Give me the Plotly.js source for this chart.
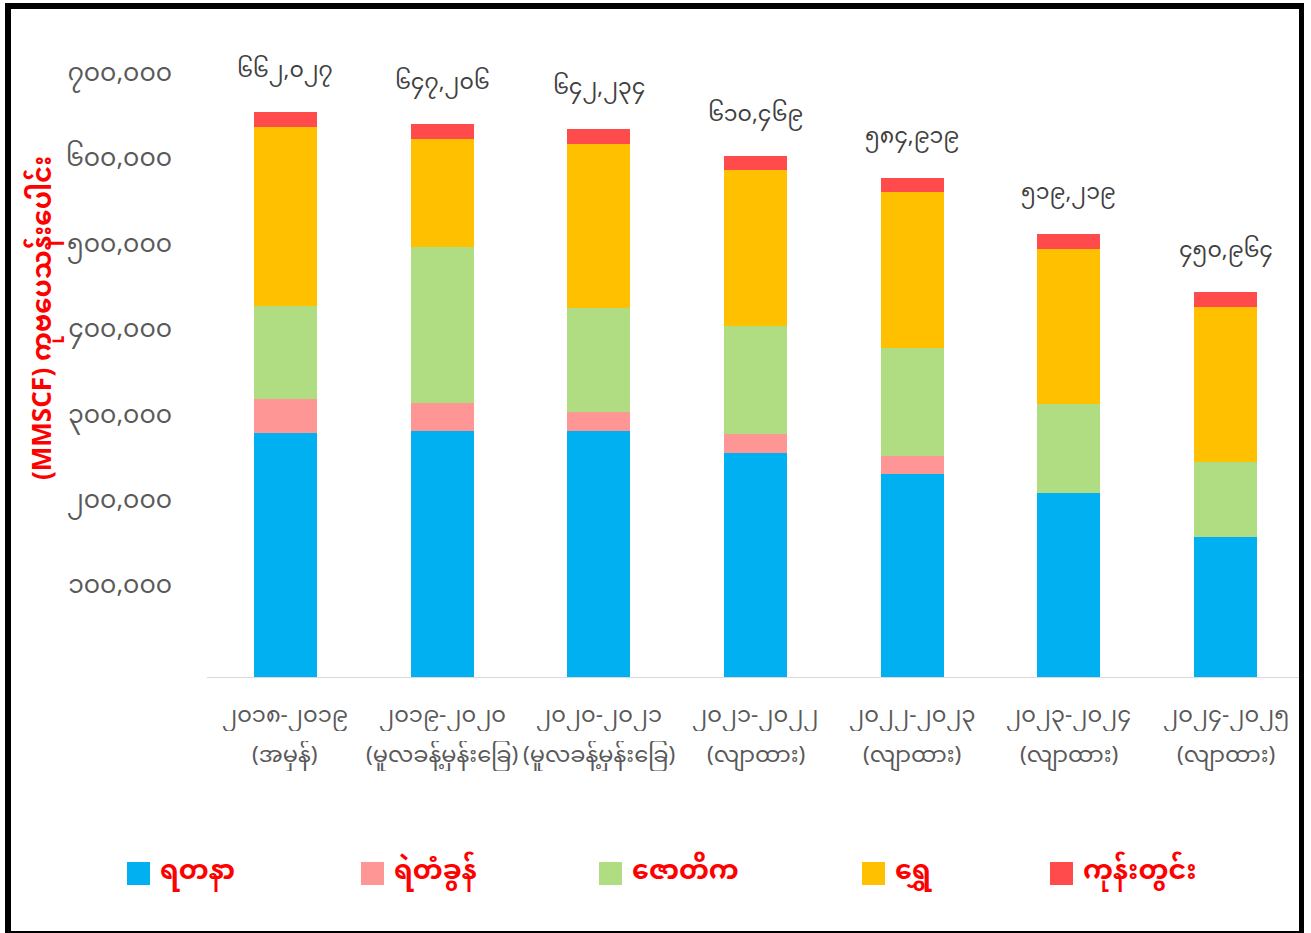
<!DOCTYPE html>
<html>
<head>
<meta charset="utf-8">
<script src="https://cdn.plot.ly/plotly-3.0.1.min.js"></script>
<style>
  html, body { margin: 0; padding: 0; background: #fff; }
  #chart { width: 1311px; height: 933px; }
  #frame { position: absolute; left: 5px; top: 3px; width: 1288px; height: 922px;
           border-left: 6px solid #000; border-top: 6px solid #000; border-right: 5px solid #000;
           border-bottom: 2px solid #000; pointer-events: none; }
</style>
</head>
<body>
<div id="chart"></div>
<div id="frame"></div>
<script>
// ---- data ----
const cats = ['၂၀၁၈-၂၀၁၉','၂၀၁၉-၂၀၂၀','၂၀၂၀-၂၀၂၁','၂၀၂၁-၂၀၂၂','၂၀၂၂-၂၀၂၃','၂၀၂၃-၂၀၂၄','၂၀၂၄-၂၀၂၅'];
const catNotes = ['(အမှန်)','(မူလခန့်မှန်းခြေ)','(မူလခန့်မှန်းခြေ)','(လျာထား)','(လျာထား)','(လျာထား)','(လျာထား)'];
const seriesNames = ['ရတနာ','ရဲတံခွန်','ဇောတိက','ရွှေ','ကုန်းတွင်း'];
const yadana  = [285400, 288100, 288100, 262700, 237400, 215900, 164300];
const yetagun = [39800, 33100, 21900, 22300, 21800, 0, 0];
const zawtika = [109300, 182700, 122500, 125800, 125800, 103900, 87100];
const shwe    = [209300, 126100, 192100, 182700, 182700, 181900, 182200];
const onshore = [18227, 17206, 17634, 16969, 17219, 17519, 17364];
const totals  = [662027, 647206, 642234, 610469, 584919, 519219, 450964];
const totalLabels = ['၆၆၂,၀၂၇','၆၄၇,၂၀၆','၆၄၂,၂၃၄','၆၁၀,၄၆၉','၅၈၄,၉၁၉','၅၁၉,၂၁၉','၄၅၀,၉၆၄'];
const tickVals = [100000, 200000, 300000, 400000, 500000, 600000, 700000];
const tickLabels = ['၁၀၀,၀၀၀','၂၀၀,၀၀၀','၃၀၀,၀၀၀','၄၀၀,၀၀၀','၅၀၀,၀၀၀','၆၀၀,၀၀၀','၇၀၀,၀၀၀'];
const yTitle = '(MMSCF) ကုဗပေသန်းပေါင်း';

// ---- styling ----
const colors = ['#00B0F0', '#FF9696', '#B1DD82', '#FFC000', '#FF4B4B'];
const FONT = '"Noto Sans Myanmar", "Myanmar Text", Padauk, "Noto Sans", sans-serif';
const seriesData = [yadana, yetagun, zawtika, shwe, onshore];

const traces = seriesData.map((vals, i) => ({
  type: 'bar', x: cats, y: vals, name: seriesNames[i],
  marker: { color: colors[i], line: { width: 0 } },
  hoverinfo: 'x+y+name', showlegend: false
}));

const L = 207, R = 7, T = 37, B = 256, W = 1311, H = 933;
const pw = W - L - R, ph = H - T - B;
const px2x = px => (px - L) / pw;
const py2y = py => (H - B - py) / ph;

const annotations = [];
cats.forEach((c, i) => {
  annotations.push({ x: c, y: totals[i], xref: 'x', yref: 'y', text: totalLabels[i], showarrow: false,
    yanchor: 'middle', yshift: 40, font: { family: FONT, size: 22, color: '#404040' } });
  annotations.push({ x: c, y: py2y(716), xref: 'x', yref: 'paper', text: c, showarrow: false,
    yanchor: 'middle', height: 30, font: { family: FONT, size: 22.5, color: '#595959' } });
  annotations.push({ x: c, y: py2y(756), xref: 'x', yref: 'paper', text: catNotes[i], showarrow: false,
    yanchor: 'middle', height: 30, font: { family: FONT, size: 22.5, color: '#595959' } });
});
annotations.push({ x: px2x(45), y: py2y(318), xref: 'paper', yref: 'paper', text: '<b>' + yTitle + '</b>',
  textangle: -90, showarrow: false, xanchor: 'center', yanchor: 'middle',
  font: { family: FONT, size: 26, color: '#FF0000' } });

// custom legend
const legendX = [127, 361, 599, 862, 1050];
const shapes = [];
seriesNames.forEach((n, i) => {
  shapes.push({ type: 'rect', xref: 'paper', yref: 'paper',
    x0: px2x(legendX[i]), x1: px2x(legendX[i] + 23), y0: py2y(862), y1: py2y(885),
    fillcolor: colors[i], line: { width: 0 } });
  annotations.push({ x: px2x(legendX[i] + 31), y: py2y(872), xref: 'paper', yref: 'paper',
    text: '<b>' + n + '</b>', showarrow: false, xanchor: 'left', yanchor: 'middle',
    font: { family: FONT, size: 27, color: '#FF0000' } });
});

const layout = {
  width: W, height: H,
  margin: { l: L, r: R, t: T, b: B, pad: 0 },
  barmode: 'stack', bargap: 0.598,
  paper_bgcolor: '#fff', plot_bgcolor: '#fff',
  font: { family: FONT },
  xaxis: { type: 'category', showticklabels: false, showline: true, linecolor: '#D9D9D9', linewidth: 1,
    showgrid: false, zeroline: false, ticks: '', fixedrange: true },
  yaxis: { range: [0, ph * 1171.2], tickvals: tickVals, ticktext: tickLabels, showgrid: false,
    showline: false, zeroline: false, ticks: '', ticklabelstandoff: 34, ticklabelshift: -7,
    tickfont: { family: FONT, size: 25, color: '#595959' }, fixedrange: true },
  showlegend: false,
  annotations: annotations, shapes: shapes
};

Plotly.newPlot('chart', traces, layout, { displayModeBar: false, staticPlot: true });
</script>
</body>
</html>
